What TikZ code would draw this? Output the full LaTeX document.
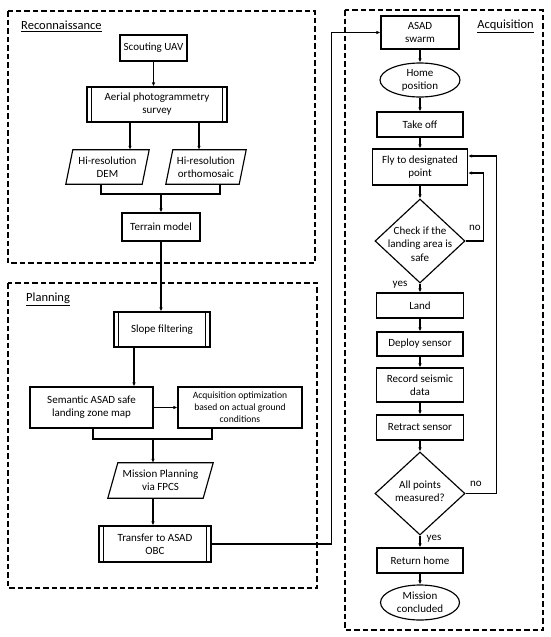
\documentclass[tikz,border=0pt]{standalone}
\usepackage{fontspec}
\setmainfont{Carlito}
\usetikzlibrary{shapes.geometric,arrows.meta,calc}
\begin{document}
\begin{tikzpicture}[x=1pt,y=-1pt,
  lw/.style={line width=1.15pt},
  sz/.style 2 args={minimum width=#1pt,minimum height=#2pt},
  rb/.style={draw,lw,inner sep=0pt,align=center,font=\fontsize{11}{13}\selectfont},
  pb/.style={inner sep=0pt,align=center,font=\fontsize{11}{13}\selectfont},
  sm/.style={draw,lw,inner sep=0pt,align=center,font=\fontsize{9.6}{12}\selectfont},
  el/.style={ellipse,draw,lw,inner sep=0pt,align=center,font=\fontsize{11}{13}\selectfont},
  dm/.style={diamond,draw,lw,inner sep=0pt},
  txt/.style={inner sep=0pt,align=center,font=\fontsize{11}{13.5}\selectfont},
  lbl/.style={inner sep=0pt,font=\fontsize{12.5}{14}\selectfont},
  yn/.style={inner sep=0pt,font=\fontsize{11}{13}\selectfont},
  grp/.style={draw,line width=1.3pt,dash pattern=on 5.5pt off 3pt},
  line/.style={lw},
  arr/.style={lw,-{Latex[length=4pt,width=3.5pt]}}
]
\useasboundingbox (0,0) rectangle (550,637);

% group frames
\draw[grp] (8,11) rectangle (315,263);
\draw[grp] (8,283) rectangle (317,588);
\draw[grp] (345,10) rectangle (543,630);
\node[lbl,anchor=west] (lrec) at (21,26) {\underline{Reconnaissance}};
\node[lbl,anchor=west] (lpla) at (26,299) {\underline{Planning}};
\node[lbl,anchor=east] (lacq) at (534,26) {\underline{Acquisition}};

% Reconnaissance
\node[rb,sz={67}{26}] (su) at (153.5,48) {Scouting UAV};
\node[rb,sz={140}{35}] (ae) at (157,104.5) {Aerial photogrammetry\\survey};
\node[pb,sz={83}{34}] (dem) at (107.5,167) {Hi-resolution\\DEM};
\node[pb,sz={80}{34}] (ort) at (206,167) {Hi-resolution\\orthomosaic};
\node[rb,sz={78}{28}] (te) at (161,227) {Terrain model};

% Planning
\node[rb,sz={96}{35}] (sl) at (162,329.5) {Slope filtering};
\node[rb,sz={123}{41}] (se) at (91.5,407.5) {Semantic ASAD safe\\landing zone map};
\node[sm,sz={124}{41}] (ao) at (240,407.5) {Acquisition optimization\\based on actual ground\\conditions};
\node[pb,sz={105}{35}] (mp) at (160.5,480.5) {Mission Planning\\via FPCS};
\node[rb,sz={112}{36}] (tr) at (155,544) {Transfer to ASAD\\OBC};

% Acquisition
\node[rb,sz={78}{33}] (sw) at (420,32.5) {ASAD\\swarm};
\node[el,sz={80}{34}] (hp) at (420,80) {Home\\position};
\node[rb,sz={86}{25}] (to) at (420,124.5) {Take off};
\node[rb,sz={95}{36}] (fl) at (420,167) {Fly to designated\\point};
\node[dm,sz={90}{84}] (ck) at (420,241) {};
\node[txt] (ckt) at (420,244) {Check if the\\landing area is\\safe};
\node[rb,sz={87}{25}] (la) at (420,305.5) {Land};
\node[rb,sz={86}{24}] (de) at (420,344) {Deploy sensor};
\node[rb,sz={87}{34}] (re) at (420,385) {Record seismic\\data};
\node[rb,sz={87}{25}] (rt) at (420,427.5) {Retract sensor};
\node[dm,sz={90}{83}] (ap) at (420,493.5) {};
\node[txt] (apt) at (420,491) {All points\\measured?};
\node[rb,sz={86}{25}] (rh) at (420,560.5) {Return home};
\node[el,sz={79}{35}] (mc) at (420,602.5) {Mission\\concluded};

% process bars
\foreach \n in {ae,sl,tr}
  \draw[lw] ([xshift=5pt]\n.north west) -- ([xshift=5pt]\n.south west)
            ([xshift=-5pt]\n.north east) -- ([xshift=-5pt]\n.south east);
% parallelograms
\draw[lw] ([xshift=7pt]dem.north west) -- (dem.north east) -- ([xshift=-7pt]dem.south east) -- (dem.south west) -- cycle;
\draw[lw] ([xshift=7pt]ort.north west) -- (ort.north east) -- ([xshift=-7pt]ort.south east) -- (ort.south west) -- cycle;
\draw[lw] ([xshift=10pt]mp.north west) -- (mp.north east) -- ([xshift=-10pt]mp.south east) -- (mp.south west) -- cycle;

% Reconnaissance connectors
\draw[arr] (su) -- (su.south |- ae.north);
\draw[arr] ([xshift=-27pt]ae.south) -- ([xshift=-27pt]ae.south |- dem.north);
\draw[arr] ([xshift=42pt]ae.south) -- ([xshift=42pt]ae.south |- ort.north);
\coordinate (m1) at (161,194);
\draw[line] ([xshift=-6.5pt]dem.south) |- (m1) -| ([xshift=14pt]ort.south);
\draw[arr] (m1) -- (m1 |- te.north);
\draw[arr] (te.south) -- (te.south |- sl.north);

% Planning connectors
\draw[arr] ([xshift=-28pt]sl.south) -- ([xshift=-28pt]sl.south |- se.north);
\draw[arr] (se.east) -- (ao.west);
\coordinate (m2) at (153,439);
\draw[line] ([xshift=1.5pt]se.south) |- (m2) -| ([xshift=-28pt]ao.south);
\draw[arr] (m2) -- (m2 |- mp.north);
\draw[arr] (m2 |- mp.south) -- (m2 |- tr.north);
\draw[arr] (tr.east) -- ++(120,0) |- (sw.west);

% Acquisition connectors
\draw[arr] (sw) -- (hp);
\draw[arr] (hp) -- (to);
\draw[arr] (to) -- (fl);
\draw[arr] (fl) -- (ck.north);
\draw[arr] (ck.south) -- (la);
\draw[arr] (la) -- (de);
\draw[arr] (de) -- (re);
\draw[arr] (re) -- (rt);
\draw[arr] (rt) -- (ap.north);
\draw[arr] (ap.south) -- (rh);
\draw[arr] (rh) -- (mc);
\draw[arr] (ck.east) -- ++(18,0) |- ([yshift=-6pt]fl.east);
\draw[arr] (ap.east) -- ++(31,0) |- ([yshift=11pt]fl.east);
\node[yn] (n1) at (475,228) {no};
\node[yn] (y1) at (400,285) {yes};
\node[yn] (n2) at (476,484) {no};
\node[yn] (y2) at (434,539) {yes};
\end{tikzpicture}
\end{document}
